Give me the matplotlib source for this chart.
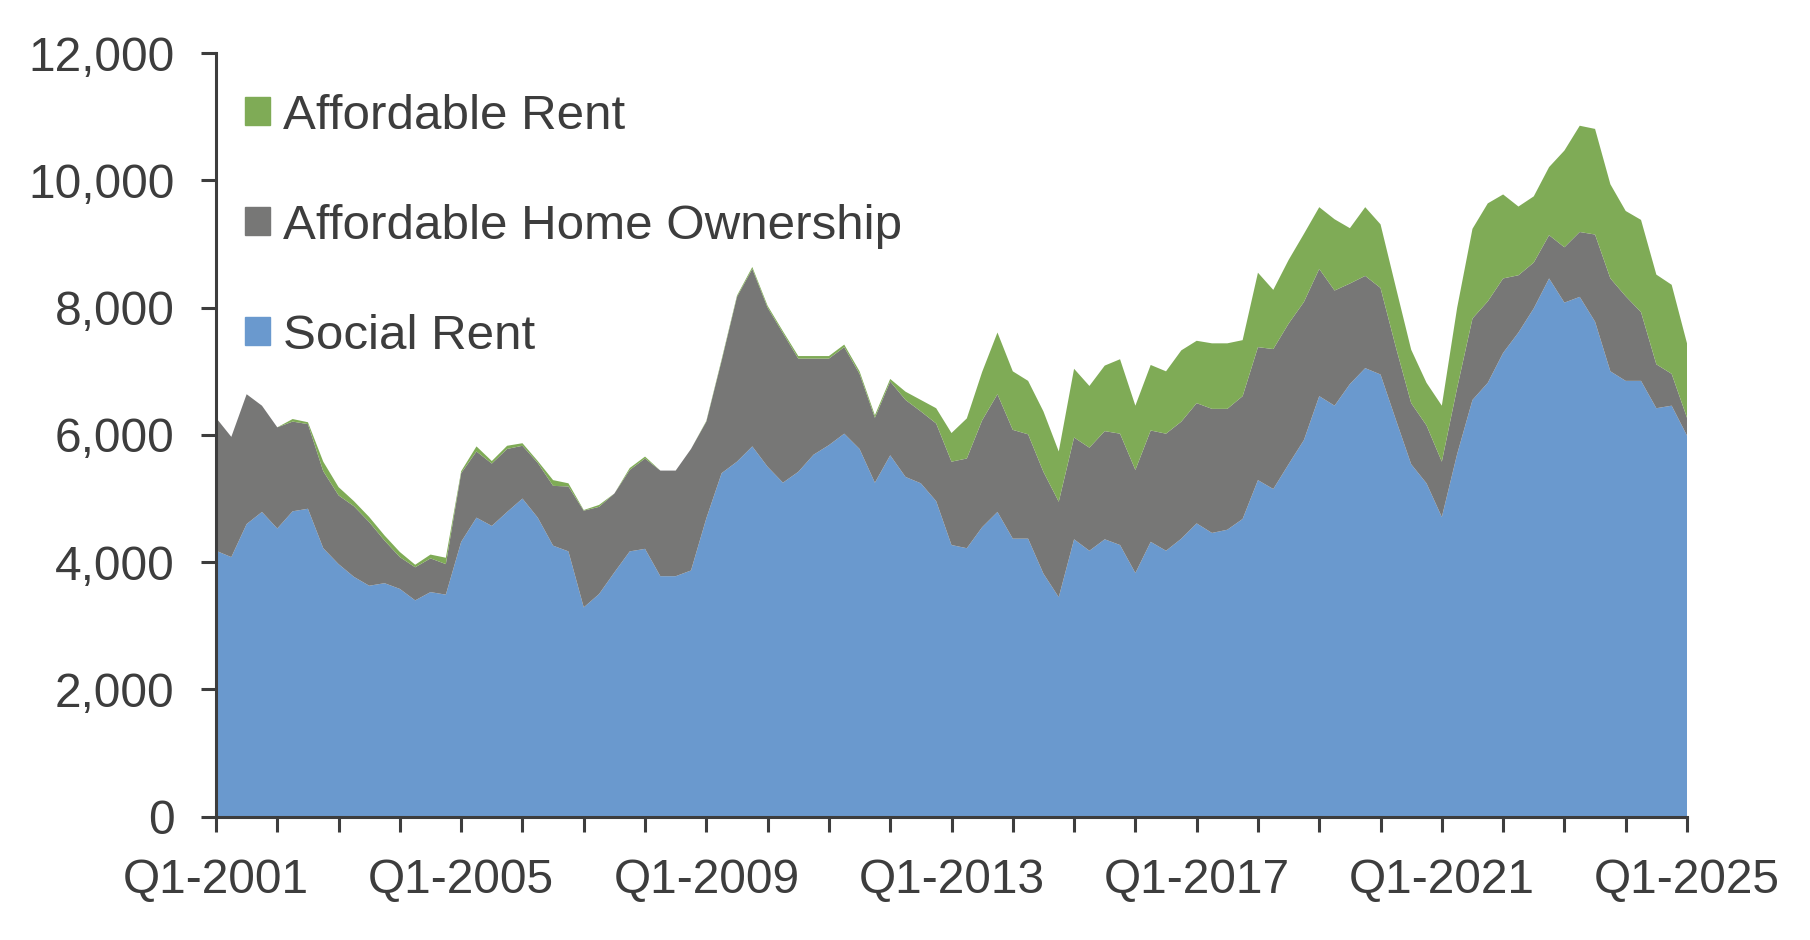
import numpy as np
import matplotlib.pyplot as plt
from matplotlib.patches import Patch
from matplotlib.ticker import FuncFormatter

plt.rcParams['font.family'] = ['Liberation Sans', 'DejaVu Sans']

# quarters Q1-2001 .. Q1-2025
quarters = [f'Q{q}-{y}' for y in range(2001, 2026) for q in range(1, 5)][:97]

social_rent = [
    4180, 4080, 4600, 4790, 4530, 4800, 4840, 4220, 3970, 3770, 3630, 3670, 3580, 3400, 3530, 3490,
    4320, 4700, 4570, 4790, 5000, 4700, 4260, 4170, 3290, 3500, 3840, 4170, 4210, 3780, 3780, 3870,
    4690, 5400, 5580, 5820, 5500, 5250, 5420, 5690, 5840, 6020, 5780, 5250, 5680, 5340, 5240, 4960,
    4270, 4220, 4550, 4790, 4370, 4370, 3820, 3450, 4360, 4180, 4360, 4270, 3830, 4320, 4180, 4370,
    4610, 4460, 4510, 4680, 5290, 5150, 5540, 5920, 6610, 6460, 6800, 7050, 6950, 6240, 5540, 5240,
    4710, 5700, 6550, 6820, 7290, 7610, 7990, 8460, 8080, 8170, 7780, 7000, 6850, 6850, 6420, 6460,
    5990,
]
home_ownership = [
    2090, 1890, 2040, 1670, 1590, 1410, 1330, 1210, 1080, 1110, 1000, 670, 500, 520, 530, 480,
    1080, 1040, 980, 990, 830, 860, 940, 1020, 1520, 1370, 1240, 1280, 1420, 1660, 1660, 1910,
    1520, 1770, 2590, 2790, 2500, 2350, 1780, 1510, 1360, 1360, 1180, 1020, 1160, 1210, 1130, 1220,
    1310, 1410, 1680, 1850, 1710, 1640, 1600, 1500, 1600, 1620, 1700, 1750, 1620, 1750, 1840, 1840,
    1890, 1950, 1900, 1930, 2090, 2200, 2210, 2170, 2000, 1810, 1580, 1450, 1360, 1140, 960, 910,
    870, 1040, 1280, 1280, 1170, 900, 720, 680, 870, 1020, 1370, 1460, 1330, 1080, 690, 500,
    280,
]
affordable_rent = [
    0, 0, 0, 0, 0, 40, 30, 150, 130, 80, 80, 80, 80, 40, 60, 100,
    30, 80, 40, 50, 40, 30, 90, 50, 10, 30, 0, 30, 30, 0, 0, 0,
    10, 20, 20, 30, 30, 30, 40, 40, 40, 40, 40, 40, 40, 130, 180, 240,
    450, 630, 760, 970, 920, 840, 950, 790, 1080, 970, 1030, 1170, 1010, 1030, 980, 1120,
    980, 1030, 1030, 880, 1170, 930, 1000, 1070, 970, 1120, 870, 1080, 1000, 940, 840, 670,
    880, 1260, 1410, 1540, 1320, 1080, 1040, 1070, 1520, 1670, 1660, 1480, 1340, 1450, 1410, 1400,
    1170,
]

labels = ['Social Rent', 'Affordable Home Ownership', 'Affordable Rent']
colors = ['#6A99CE', '#777776', '#7FAB56']
text_col = '#3d3d3d'

fig = plt.figure(figsize=(18.1, 9.4), dpi=100)
ax = fig.add_axes([216 / 1810, 123.3 / 940, 1471 / 1810, 763.5 / 940])

x = np.arange(len(quarters))
ax.stackplot(x, social_rent, home_ownership, affordable_rent, colors=colors, labels=labels,
             linewidth=0)

ax.set_xlim(0, len(quarters) - 1)
ax.set_ylim(0, 12000)
ax.set_yticks(range(0, 12001, 2000))
ax.yaxis.set_major_formatter(FuncFormatter(lambda v, p: f'{int(v):,}'))
tick_pos = list(range(0, len(quarters), 4))
ax.set_xticks(tick_pos)
ax.set_xticklabels([quarters[i] if i % 16 == 0 else '' for i in tick_pos])

for s in ['top', 'right']:
    ax.spines[s].set_visible(False)
for s in ['left', 'bottom']:
    ax.spines[s].set_color(text_col)
    ax.spines[s].set_linewidth(2.2)
ax.tick_params(direction='out', length=11, width=2.2, color=text_col,
               labelsize=34.5, labelcolor=text_col, pad=19)

handles = [Patch(color=colors[i]) for i in (2, 1, 0)]
ax.legend(handles, [labels[i] for i in (2, 1, 0)], loc='upper left',
          bbox_to_anchor=(0.0197, 0.947), frameon=False, fontsize=35.5,
          handlelength=0.5, handleheight=0.5, handletextpad=0.27,
          labelspacing=1.32, borderpad=0, borderaxespad=0, labelcolor=text_col)

fig.savefig('out.png', dpi=100)
